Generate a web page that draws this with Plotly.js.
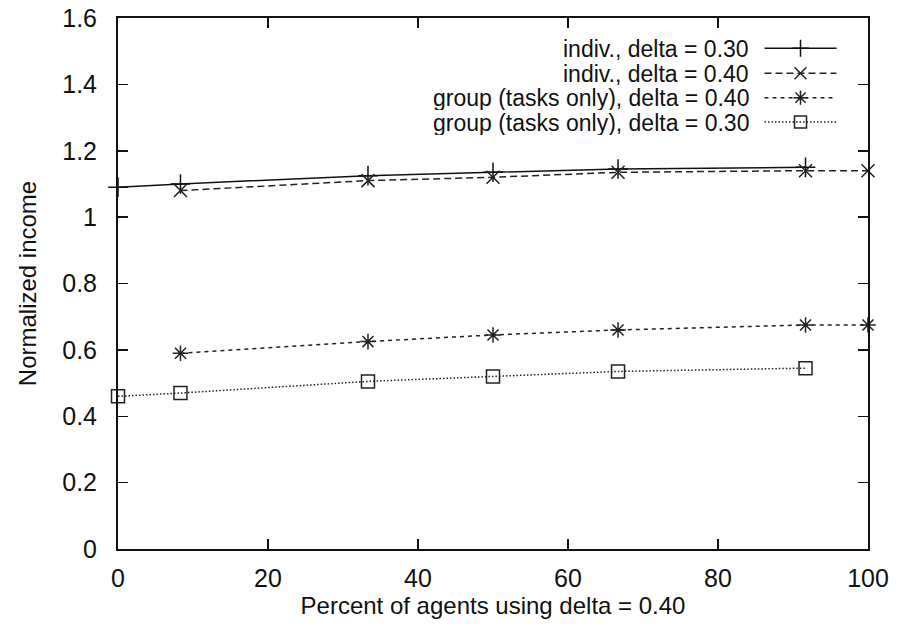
<!DOCTYPE html>
<html>
<head>
<meta charset="utf-8">
<script src="https://cdn.plot.ly/plotly-3.0.1.min.js"></script>
<style>html,body{margin:0;padding:0;background:#fff;}#chart{width:903px;height:629px;}</style>
</head>
<body>
<div id="chart"></div>
<script>
// Data
const seriesNames = [
  "indiv., delta = 0.30",
  "indiv., delta = 0.40",
  "group (tasks only), delta = 0.40",
  "group (tasks only), delta = 0.30"
];
const indiv030X = [0, 8.33, 33.33, 50, 66.67, 91.67];
const indiv030Y = [1.09, 1.10, 1.125, 1.135, 1.145, 1.15];
const indiv040X = [8.33, 33.33, 50, 66.67, 91.67, 100];
const indiv040Y = [1.08, 1.11, 1.12, 1.135, 1.14, 1.14];
const group040X = [8.33, 33.33, 50, 66.67, 91.67, 100];
const group040Y = [0.59, 0.625, 0.645, 0.66, 0.675, 0.675];
const group030X = [0, 8.33, 33.33, 50, 66.67, 91.67];
const group030Y = [0.46, 0.47, 0.505, 0.52, 0.535, 0.545];
const xTickVals = [0, 20, 40, 60, 80, 100];
const yTickVals = [0, 0.2, 0.4, 0.6, 0.8, 1, 1.2, 1.4, 1.6];

const styles = [
  {dash: "solid", symbol: "cross-thin-open", size: 14, color: "#111"},
  {dash: "7px,4px", symbol: "x-thin-open", size: 13, color: "#222"},
  {dash: "4px,4px", symbol: "asterisk-open", size: 13, color: "#222"},
  {dash: "1.5px,2px", symbol: "square-open", size: 13, color: "#222"}
];
const xs = [indiv030X, indiv040X, group040X, group030X];
const ys = [indiv030Y, indiv040Y, group040Y, group030Y];

const traces = [];
for (let i = 0; i < 4; i++) {
  traces.push({
    x: xs[i], y: ys[i], type: "scatter", mode: "lines+markers", name: seriesNames[i],
    line: {color: styles[i].color, width: 1.5, dash: styles[i].dash},
    marker: {symbol: styles[i].symbol, size: styles[i].size, color: styles[i].color,
             line: {color: styles[i].color, width: 1.5}},
    showlegend: false, cliponaxis: false
  });
}

// Custom gnuplot-style legend (text right-aligned, sample on the right)
const legRowY = [0.943, 0.896, 0.850, 0.804];
const annotations = [];
for (let i = 0; i < 4; i++) {
  traces.push({
    x: [0.862, 0.910, 0.958], y: [legRowY[i], legRowY[i], legRowY[i]],
    xaxis: "x2", yaxis: "y2", type: "scatter", mode: "lines+markers",
    line: {color: styles[i].color, width: 1.5, dash: styles[i].dash},
    marker: {symbol: styles[i].symbol, size: 12, color: styles[i].color,
             line: {color: styles[i].color, width: 1.5},
             opacity: [0, 1, 0]},
    showlegend: false, hoverinfo: "skip"
  });
  annotations.push({
    xref: "x2", yref: "y2", x: 0.842, y: legRowY[i], text: seriesNames[i],
    showarrow: false, xanchor: "right", yanchor: "middle", height: 25, borderpad: 0,
    font: {family: "Liberation Sans, Arial, sans-serif", size: 23, color: "#111"}
  });
}

const tickFont = {family: "Liberation Sans, Arial, sans-serif", size: 25, color: "#111"};
const titleFont = {family: "Liberation Sans, Arial, sans-serif", size: 24, color: "#111"};
const layout = {
  width: 903, height: 629,
  margin: {l: 118, r: 35, t: 18, b: 80},
  paper_bgcolor: "#fff", plot_bgcolor: "#fff",
  showlegend: false,
  xaxis: {
    range: [0, 100], tickvals: xTickVals, ticks: "inside", ticklen: 10, tickwidth: 1.5,
    tickcolor: "#111", showline: true, linecolor: "#111", linewidth: 2, mirror: "ticks",
    showgrid: false, zeroline: false, tickfont: tickFont, ticklabelstandoff: 6,
    title: {text: "Percent of agents using delta = 0.40", font: titleFont, standoff: 5}
  },
  yaxis: {
    range: [0, 1.6], tickvals: yTickVals, ticks: "inside", ticklen: 10, tickwidth: 1.5,
    tickcolor: "#111", showline: true, linecolor: "#111", linewidth: 2, mirror: "ticks",
    showgrid: false, zeroline: false, tickfont: tickFont, ticklabelstandoff: 14,
    title: {text: "Normalized income", font: titleFont, standoff: 19}
  },
  xaxis2: {overlaying: "x", range: [0, 1], visible: false, fixedrange: true},
  yaxis2: {overlaying: "y", range: [0, 1], visible: false, fixedrange: true},
  annotations: annotations
};

Plotly.newPlot("chart", traces, layout, {displayModeBar: false, staticPlot: true});
</script>
</body>
</html>
